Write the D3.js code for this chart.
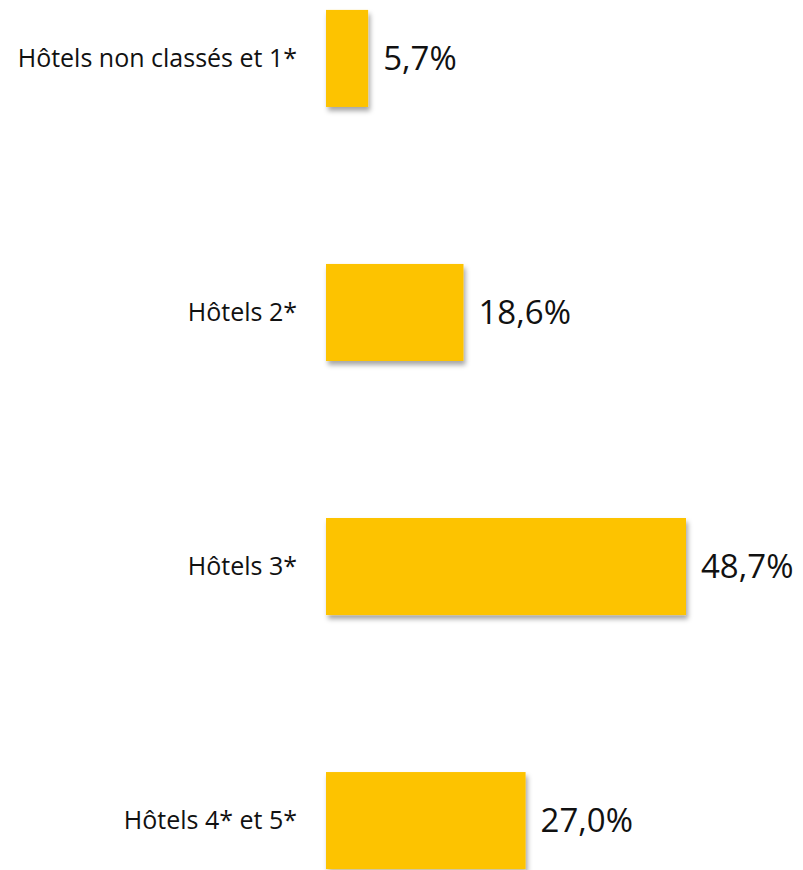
<!DOCTYPE html>
<html>
<head>
<meta charset="utf-8">
<script src="https://cdn.jsdelivr.net/npm/d3@7"></script>
<style>
  body { margin: 0; background: #fff; }
  svg { display: block; }
  text { font-family: "Open Sans", sans-serif; fill: #111; }
</style>
</head>
<body>
<div id="chart"></div>
<script>
const categories = ["Hôtels non classés et 1*", "Hôtels 2*", "Hôtels 3*", "Hôtels 4* et 5*"];
const values = [5.7, 18.6, 48.7, 27.0];
const valueLabels = ["5,7%", "18,6%", "48,7%", "27,0%"];

const W = 803, H = 870;
const left = 326;

const svg = d3.select("#chart").append("svg")
  .attr("width", W)
  .attr("height", H);

// soft shadow under the bars
const defs = svg.append("defs");
const f = defs.append("filter").attr("id", "shadow")
  .attr("x", "-10%").attr("y", "-10%").attr("width", "130%").attr("height", "130%");
f.append("feDropShadow")
  .attr("dx", 2).attr("dy", 4)
  .attr("stdDeviation", 2.5)
  .attr("flood-color", "#000")
  .attr("flood-opacity", 0.35);

// Scales
const x = d3.scaleLinear().domain([0, 48.7]).range([0, 360]);
const y = d3.scaleBand().domain(categories).range([0, 879]).paddingInner(0.618).paddingOuter(0.039);

const g = svg.append("g").attr("transform", "translate(" + left + ",0)");

g.selectAll("rect.bar")
  .data(values)
  .enter().append("rect")
    .attr("class", "bar")
    .attr("x", 0)
    .attr("y", (d, i) => y(categories[i]))
    .attr("width", d => x(d))
    .attr("height", y.bandwidth())
    .style("fill", "#fdc300")
    .attr("filter", "url(#shadow)");

g.selectAll("text.val")
  .data(values)
  .enter().append("text")
    .attr("class", "val")
    .attr("x", d => x(d) + 15)
    .attr("y", (d, i) => y(categories[i]) + y.bandwidth() / 2)
    .attr("dy", "0.35em")
    .style("font-size", "33px")
    .text((d, i) => valueLabels[i]);

g.selectAll("text.cat")
  .data(categories)
  .enter().append("text")
    .attr("class", "cat")
    .attr("x", -29)
    .attr("y", d => y(d) + y.bandwidth() / 2)
    .attr("dy", "0.35em")
    .attr("text-anchor", "end")
    .style("font-size", "25px")
    .text(d => d);
</script>
</body>
</html>
